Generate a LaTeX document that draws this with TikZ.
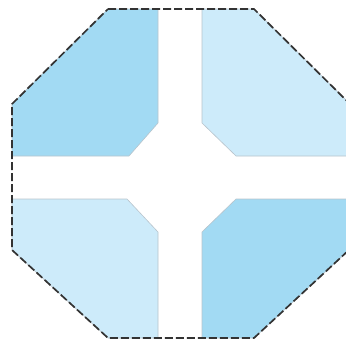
\documentclass[tikz,border=0pt]{standalone}
\usepackage{tikz}
\definecolor{darkfill}{HTML}{A2DAF3}
\definecolor{lightfill}{HTML}{CDEBFA}
\definecolor{edgegray}{HTML}{B8C4CC}
\begin{document}
\begin{tikzpicture}[x=1pt,y=-1pt,
  region/.style={draw=edgegray,line width=0.6pt,line join=round},
  outline/.style={draw=black!80,line width=1.7pt,dash pattern=on 8pt off 3pt,line join=miter}]
\useasboundingbox (0,0) rectangle (346,349);
\clip (0,0) rectangle (346,349);
% quadrants
\path[region,fill=darkfill] (12,104) -- (108,9) -- (158,9) -- (158,123) -- (129,156) -- (12,156) -- cycle;
\path[region,fill=lightfill] (202,9) -- (254,9) -- (350,104) -- (350,156) -- (236,156) -- (202,123) -- cycle;
\path[region,fill=lightfill] (12,199) -- (127,199) -- (158,232) -- (158,338) -- (108,338) -- (12,250) -- cycle;
\path[region,fill=darkfill] (236,199) -- (350,199) -- (350,249) -- (254,338) -- (202,338) -- (202,232) -- cycle;
% dashed octagon
\path[outline] (108,9) -- (254,9) -- (350,104) -- (350,249) -- (254,338) -- (108,338) -- (12,250) -- (12,104) -- cycle;
\end{tikzpicture}
\end{document}
